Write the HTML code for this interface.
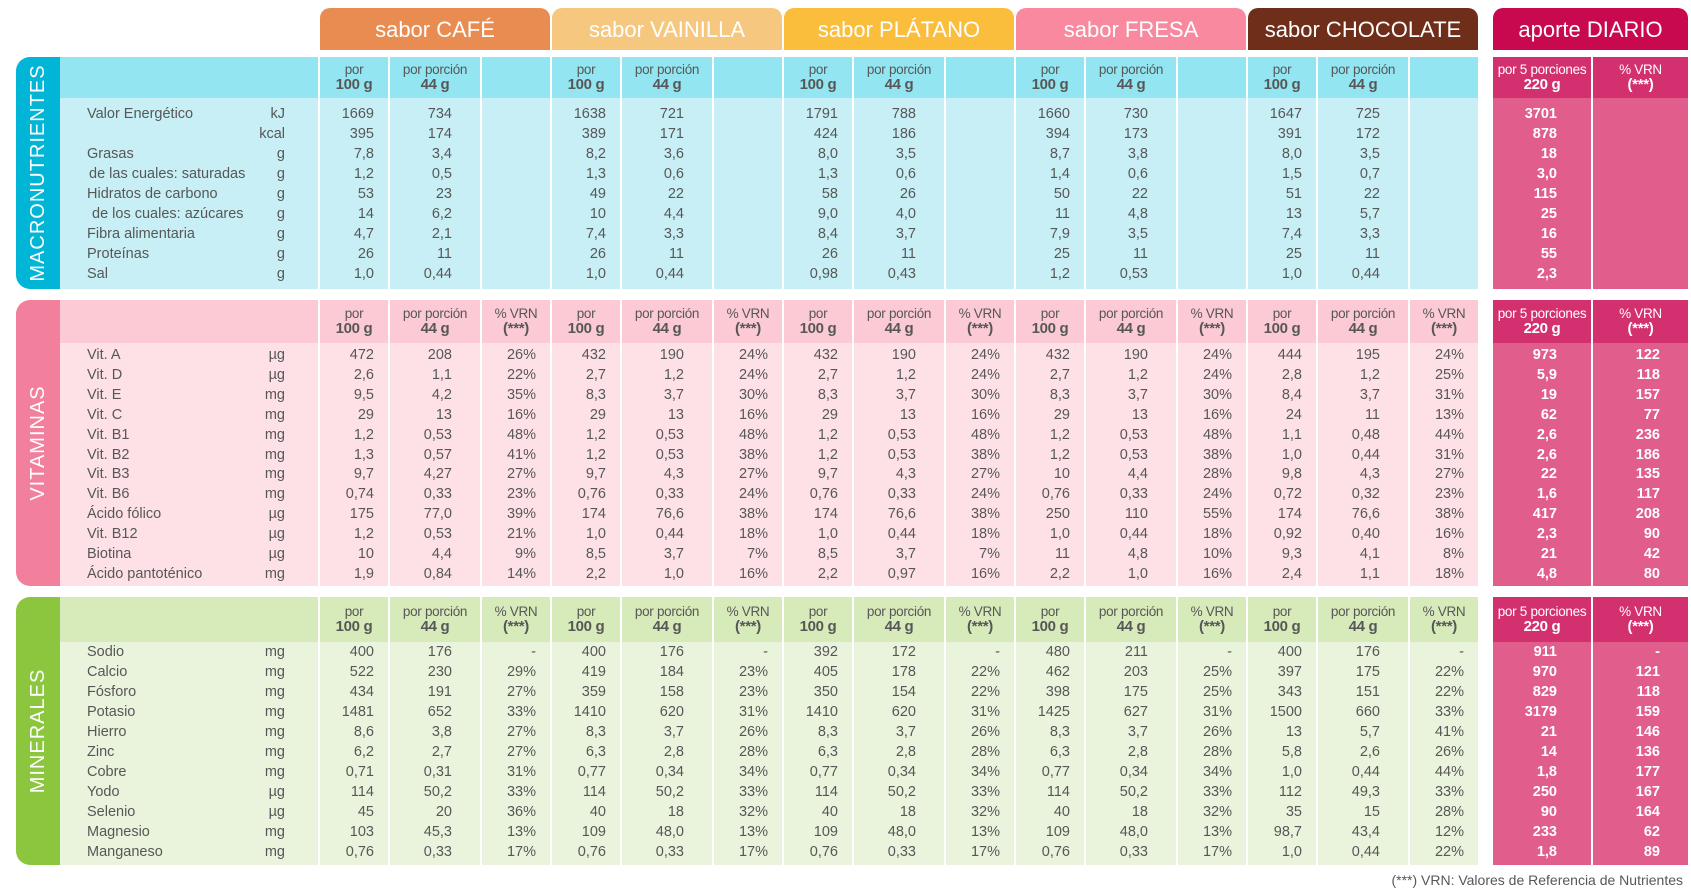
<!DOCTYPE html>
<html><head><meta charset="utf-8">
<style>
body{margin:0;width:1691px;height:895px;background:#fff;position:relative;overflow:hidden;font-family:"Liberation Sans Narrow","Liberation Sans",sans-serif;color:#575757}
.a{position:absolute;box-sizing:border-box}
.t{position:absolute;white-space:nowrap;font-size:14.5px;line-height:16px}
.tab{position:absolute;top:8px;height:42px;border-radius:10px 10px 0 0;color:#fff;font-family:"Liberation Sans",sans-serif;font-size:22px;text-align:center;line-height:44px}
.strip{position:absolute;left:16px;width:44px;border-radius:14px 0 0 14px}
.vt{position:absolute;color:#fff;font-family:"Liberation Sans",sans-serif;font-size:20px;letter-spacing:1px;transform:rotate(-90deg);transform-origin:center;white-space:nowrap;text-align:center}
.hd{position:absolute;text-align:center;font-size:13.5px;line-height:15px;letter-spacing:-.3px}
.hd b{font-size:15px}
</style></head><body>
<div id="root"></div>
<div class="t" style="right:8px;top:872px;font-family:'Liberation Sans',sans-serif;font-size:14px">(***) VRN: Valores de Referencia de Nutrientes</div>
<script>
const flavors=["sabor CAFÉ","sabor VAINILLA","sabor PLÁTANO","sabor FRESA","sabor CHOCOLATE"];
const tabColors=["#e98c52","#f6c87f","#fbbe3c","#f8899f","#6f2e1a"];
const macroLabels=["Valor Energético","","Grasas"," de las cuales: saturadas","Hidratos de carbono","  de los cuales: azúcares","Fibra alimentaria","Proteínas","Sal"];
const macroUnits=["kJ","kcal","g","g","g","g","g","g","g"];
const macroVals=[
[["1669","734"],["1638","721"],["1791","788"],["1660","730"],["1647","725"],["3701",""]],
[["395","174"],["389","171"],["424","186"],["394","173"],["391","172"],["878",""]],
[["7,8","3,4"],["8,2","3,6"],["8,0","3,5"],["8,7","3,8"],["8,0","3,5"],["18",""]],
[["1,2","0,5"],["1,3","0,6"],["1,3","0,6"],["1,4","0,6"],["1,5","0,7"],["3,0",""]],
[["53","23"],["49","22"],["58","26"],["50","22"],["51","22"],["115",""]],
[["14","6,2"],["10","4,4"],["9,0","4,0"],["11","4,8"],["13","5,7"],["25",""]],
[["4,7","2,1"],["7,4","3,3"],["8,4","3,7"],["7,9","3,5"],["7,4","3,3"],["16",""]],
[["26","11"],["26","11"],["26","11"],["25","11"],["25","11"],["55",""]],
[["1,0","0,44"],["1,0","0,44"],["0,98","0,43"],["1,2","0,53"],["1,0","0,44"],["2,3",""]]];
const vitLabels=["Vit. A","Vit. D","Vit. E","Vit. C","Vit. B1","Vit. B2","Vit. B3","Vit. B6","Ácido fólico","Vit. B12","Biotina","Ácido pantoténico"];
const vitUnits=["µg","µg","mg","mg","mg","mg","mg","mg","µg","µg","µg","mg"];
const vitVals=[
[["472","208","26%"],["432","190","24%"],["432","190","24%"],["432","190","24%"],["444","195","24%"],["973","122"]],
[["2,6","1,1","22%"],["2,7","1,2","24%"],["2,7","1,2","24%"],["2,7","1,2","24%"],["2,8","1,2","25%"],["5,9","118"]],
[["9,5","4,2","35%"],["8,3","3,7","30%"],["8,3","3,7","30%"],["8,3","3,7","30%"],["8,4","3,7","31%"],["19","157"]],
[["29","13","16%"],["29","13","16%"],["29","13","16%"],["29","13","16%"],["24","11","13%"],["62","77"]],
[["1,2","0,53","48%"],["1,2","0,53","48%"],["1,2","0,53","48%"],["1,2","0,53","48%"],["1,1","0,48","44%"],["2,6","236"]],
[["1,3","0,57","41%"],["1,2","0,53","38%"],["1,2","0,53","38%"],["1,2","0,53","38%"],["1,0","0,44","31%"],["2,6","186"]],
[["9,7","4,27","27%"],["9,7","4,3","27%"],["9,7","4,3","27%"],["10","4,4","28%"],["9,8","4,3","27%"],["22","135"]],
[["0,74","0,33","23%"],["0,76","0,33","24%"],["0,76","0,33","24%"],["0,76","0,33","24%"],["0,72","0,32","23%"],["1,6","117"]],
[["175","77,0","39%"],["174","76,6","38%"],["174","76,6","38%"],["250","110","55%"],["174","76,6","38%"],["417","208"]],
[["1,2","0,53","21%"],["1,0","0,44","18%"],["1,0","0,44","18%"],["1,0","0,44","18%"],["0,92","0,40","16%"],["2,3","90"]],
[["10","4,4","9%"],["8,5","3,7","7%"],["8,5","3,7","7%"],["11","4,8","10%"],["9,3","4,1","8%"],["21","42"]],
[["1,9","0,84","14%"],["2,2","1,0","16%"],["2,2","0,97","16%"],["2,2","1,0","16%"],["2,4","1,1","18%"],["4,8","80"]]];
const minLabels=["Sodio","Calcio","Fósforo","Potasio","Hierro","Zinc","Cobre","Yodo","Selenio","Magnesio","Manganeso"];
const minUnits=["mg","mg","mg","mg","mg","mg","mg","µg","µg","mg","mg"];
const minVals=[
[["400","176","-"],["400","176","-"],["392","172","-"],["480","211","-"],["400","176","-"],["911","-"]],
[["522","230","29%"],["419","184","23%"],["405","178","22%"],["462","203","25%"],["397","175","22%"],["970","121"]],
[["434","191","27%"],["359","158","23%"],["350","154","22%"],["398","175","25%"],["343","151","22%"],["829","118"]],
[["1481","652","33%"],["1410","620","31%"],["1410","620","31%"],["1425","627","31%"],["1500","660","33%"],["3179","159"]],
[["8,6","3,8","27%"],["8,3","3,7","26%"],["8,3","3,7","26%"],["8,3","3,7","26%"],["13","5,7","41%"],["21","146"]],
[["6,2","2,7","27%"],["6,3","2,8","28%"],["6,3","2,8","28%"],["6,3","2,8","28%"],["5,8","2,6","26%"],["14","136"]],
[["0,71","0,31","31%"],["0,77","0,34","34%"],["0,77","0,34","34%"],["0,77","0,34","34%"],["1,0","0,44","44%"],["1,8","177"]],
[["114","50,2","33%"],["114","50,2","33%"],["114","50,2","33%"],["114","50,2","33%"],["112","49,3","33%"],["250","167"]],
[["45","20","36%"],["40","18","32%"],["40","18","32%"],["40","18","32%"],["35","15","28%"],["90","164"]],
[["103","45,3","13%"],["109","48,0","13%"],["109","48,0","13%"],["109","48,0","13%"],["98,7","43,4","12%"],["233","62"]],
[["0,76","0,33","17%"],["0,76","0,33","17%"],["0,76","0,33","17%"],["0,76","0,33","17%"],["1,0","0,44","22%"],["1,8","89"]]];

const root=document.getElementById('root');
function box(cls,x,y,w,h,bg,name){const d=document.createElement('div');d.className=cls;d.style.cssText=`left:${x}px;top:${y}px;width:${w}px;height:${h}px;background:${bg}`;


root.appendChild(d);return d;}
function txt(x,y,w,s,align,name,col,bold){const d=document.createElement('div');d.className='t';d.textContent=s;
d.style.cssText=`left:${x}px;top:${y-8}px;width:${w}px;text-align:${align};color:${col||'#575757'};${bold?'font-weight:bold;':''}`;


root.appendChild(d);return d;}
// column geometry
const colW=[68,90,68];
function colX(g,c){let x=320+g*232;for(let i=0;i<c;i++)x+=colW[i]+2;return x;}
const apX=[1493,1593],apW=[98,95];
// tabs
flavors.forEach((f,i)=>{const d=document.createElement('div');d.className='tab';d.style.left=(320+i*232)+'px';d.style.width='230px';d.style.background=tabColors[i];d.textContent=f;


root.appendChild(d);});
{const d=document.createElement('div');d.className='tab';d.style.left='1493px';d.style.width='195px';d.style.background='#c8094f';d.textContent='aporte DIARIO';


root.appendChild(d);}

function section(key,title,y0,hh,y1,first,pitch,labels,units,vals,hasVrn,c){
  const strip=box('strip',16,y0,44,y1-y0,c.strip,key+'-strip');
  const vt=document.createElement('div');vt.className='vt';vt.textContent=title;
  const H=y1-y0;vt.style.cssText=`left:${38-H/2}px;top:${y0+H/2-12}px;width:${H}px;height:24px;line-height:24px`;
  
  
  root.appendChild(vt);
  box('a',60,y0,258,hh,c.head,key+'-label-header');
  box('a',60,y0+hh,258,y1-y0-hh,c.body,key+'-label-body');
  for(let g=0;g<5;g++)for(let k=0;k<3;k++){
    const x=colX(g,k);
    box('a',x,y0,colW[k],hh,c.head,key+'-col-head');
    box('a',x,y0+hh,colW[k],y1-y0-hh,c.body,key+'-col-body');
    let html=k==0?'por<br><b>100 g</b>':k==1?'por porción<br><b>44 g</b>':(hasVrn?'% VRN<br><b>(***)</b>':'');
    const h=document.createElement('div');h.className='hd';h.innerHTML=html;h.style.cssText=`left:${x}px;top:${y0+hh/2-16}px;width:${colW[k]}px`;
    
    
    root.appendChild(h);
  }
  for(let k=0;k<2;k++){
    box('a',apX[k],y0,apW[k],hh,'#d3306f',key+'-daily-head');
    box('a',apX[k],y0+hh,apW[k],y1-y0-hh,'#e05d8c',key+'-daily-body');
    const h=document.createElement('div');h.className='hd';h.style.color='#fff';
    h.innerHTML=k==0?'por 5 porciones<br><b>220 g</b>':'% VRN<br><b>(***)</b>';
    h.style.cssText+=`;left:${apX[k]}px;top:${y0+hh/2-16}px;width:${apW[k]}px`;
    
    
    root.appendChild(h);
  }
  labels.forEach((l,r)=>{
    const y=first+r*pitch;
    const ind=l.startsWith('  ')?92:(l.startsWith(' ')?89:87);
    txt(ind,y,220,l.trim(),'left',key+'-row-label');
    txt(240,y,45,units[r],'right',key+'-row-unit');
    for(let g=0;g<5;g++){const v=vals[r][g];
      for(let k=0;k<v.length;k++){txt(colX(g,k),y,colW[k]-(k==1?28:14),v[k],'right',key+'-value');}}
    const a=vals[r][5];
    txt(apX[0],y,apW[0]-34,a[0],'right',key+'-daily-value','#fff',true);
    if(a[1]!=='')txt(apX[1],y,apW[1]-28,a[1],'right',key+'-daily-vrn','#fff',true);
  });
}
section('macro','MACRONUTRIENTES',57,41,289,114,20,macroLabels,macroUnits,macroVals,false,{strip:'#00b5d6',head:'#93e6f1',body:'#c7eff5'});
section('vitamins','VITAMINAS',300,43,586,355,19.9,vitLabels,vitUnits,vitVals,true,{strip:'#f27f9c',head:'#fccad4',body:'#fde1e7'});
section('minerals','MINERALES',597,45,865,652,19.95,minLabels,minUnits,minVals,true,{strip:'#8cc63f',head:'#d7eab9',body:'#eaf4dc'});
</script>
</body></html>
